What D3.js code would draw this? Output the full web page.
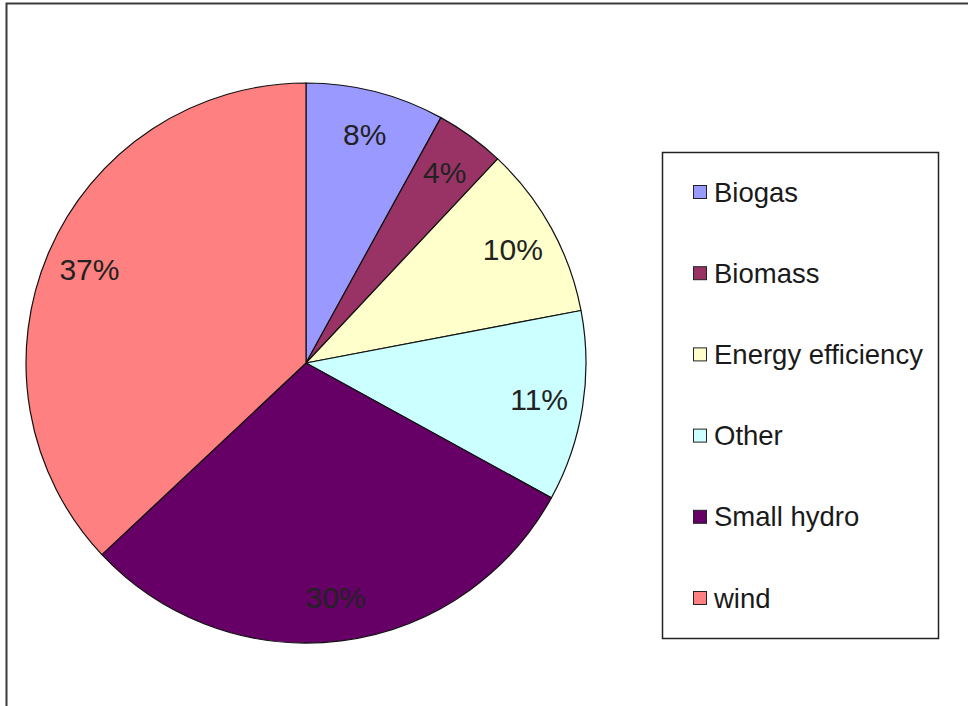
<!DOCTYPE html>
<html>
<head>
<meta charset="utf-8">
<script src="https://cdn.jsdelivr.net/npm/d3@7"></script>
<style>
  html, body { margin: 0; padding: 0; background: #fff; }
  svg { display: block; }
  text { font-family: Arial, "Liberation Sans", sans-serif; }
</style>
</head>
<body>
<svg id="chart" width="968" height="706"></svg>
<script>
// Share of projects by type (percent)
const categories = ["Biogas", "Biomass", "Energy efficiency", "Other", "Small hydro", "wind"];
const shares = [8, 4, 10, 11, 30, 37];
const colors = ["#9999FF", "#993366", "#FFFFCC", "#CCFFFF", "#660066", "#FF8080"];

const svg = d3.select("#chart");
const W = 968, H = 706;

// Chart area frame (runs off the right and bottom of the view)
svg.append("rect")
  .attr("x", 6.5).attr("y", 3.5)
  .attr("width", W + 40).attr("height", H + 40)
  .attr("fill", "#fff")
  .attr("stroke", "#3a3a3a")
  .attr("stroke-width", 2);

// Pie
const cx = 306, cy = 363, radius = 280, labelRadius = 236;
const data = categories.map((c, i) => ({ name: c, value: shares[i], color: colors[i] }));

const pie = d3.pie().value(d => d.value).sort(null);
const arcs = pie(data);
const arc = d3.arc().innerRadius(0).outerRadius(radius);
const labelArc = d3.arc().innerRadius(labelRadius).outerRadius(labelRadius);

const g = svg.append("g").attr("transform", `translate(${cx},${cy})`);

g.selectAll("path.slice")
  .data(arcs)
  .join("path")
  .attr("class", "slice")
  .attr("d", arc)
  .attr("fill", d => d.data.color)
  .attr("stroke", "#111")
  .attr("stroke-width", 1.2)
  .attr("stroke-linejoin", "round");

g.selectAll("text.pct")
  .data(arcs)
  .join("text")
  .attr("class", "pct")
  .attr("transform", d => `translate(${labelArc.centroid(d)})`)
  .attr("text-anchor", "middle")
  .attr("dominant-baseline", "central")
  .attr("font-size", 30)
  .attr("fill", "#222")
  .text(d => d3.format(".0f")(d.data.value) + "%");

// Legend
const lg = { x: 662.5, y: 152.5, w: 276, h: 486 };
svg.append("rect")
  .attr("x", lg.x).attr("y", lg.y)
  .attr("width", lg.w).attr("height", lg.h)
  .attr("fill", "#fff")
  .attr("stroke", "#222")
  .attr("stroke-width", 1.5);

const rowY = d3.scalePoint()
  .domain(categories)
  .range([192, 598]);

const items = svg.append("g").selectAll("g.item")
  .data(data)
  .join("g")
  .attr("class", "item")
  .attr("transform", d => `translate(693,${rowY(d.name)})`);

items.append("rect")
  .attr("x", 0.5).attr("y", -6.5)
  .attr("width", 13).attr("height", 13)
  .attr("fill", d => d.color)
  .attr("stroke", "#222")
  .attr("stroke-width", 1);

items.append("text")
  .attr("x", 21)
  .attr("y", 0)
  .attr("dominant-baseline", "central")
  .attr("font-size", 27.5)
  .attr("fill", "#1a1a1a")
  .text(d => d.name);
</script>
</body>
</html>
